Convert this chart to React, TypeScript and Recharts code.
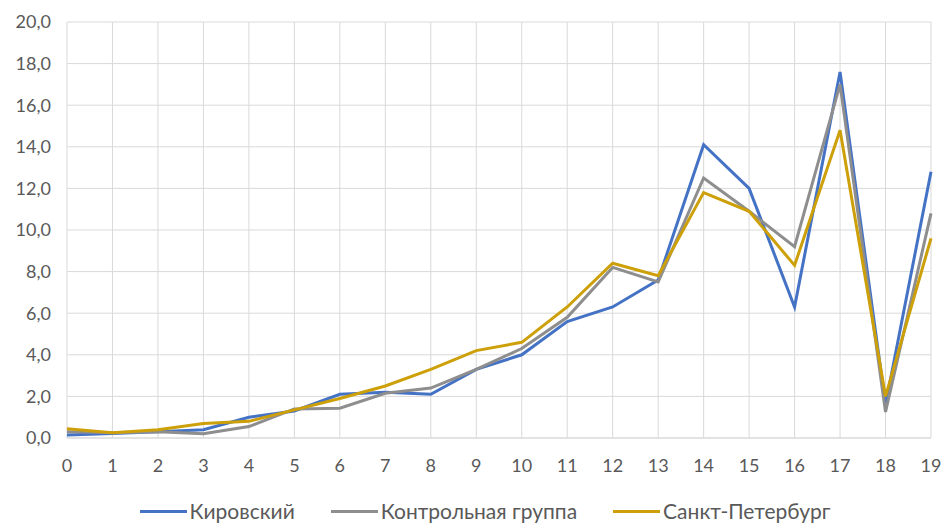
import { CartesianGrid, Legend, Line, LineChart, XAxis, YAxis } from "recharts";

const ages = ["0", "1", "2", "3", "4", "5", "6", "7", "8", "9", "10", "11", "12", "13", "14", "15", "16", "17", "18", "19"];
const kirovsky = [0.15, 0.22, 0.3, 0.4, 1.0, 1.3, 2.1, 2.2, 2.1, 3.3, 4.0, 5.6, 6.3, 7.6, 14.1, 12.0, 6.3, 17.6, 1.6, 12.8];
const control = [0.3, 0.25, 0.3, 0.2, 0.55, 1.4, 1.43, 2.15, 2.4, 3.3, 4.3, 5.8, 8.2, 7.5, 12.5, 10.9, 9.2, 17.0, 1.25, 10.8];
const spb = [0.45, 0.25, 0.4, 0.7, 0.8, 1.35, 1.9, 2.5, 3.3, 4.2, 4.6, 6.3, 8.4, 7.8, 11.8, 10.9, 8.3, 14.8, 2.0, 9.6];
const yTicks = [0, 2, 4, 6, 8, 10, 12, 14, 16, 18, 20];

const BLUE = "#4472C4";
const GRAY = "#8E8E8E";
const GOLD = "#CDA00A";
const GRID = "#D9D9D9";
const TEXT = "#595959";
const FONT = "Lato, 'Open Sans', sans-serif";

const series = [
  { key: "kirovsky", name: "Кировский", color: BLUE },
  { key: "control", name: "Контрольная группа", color: GRAY },
  { key: "spb", name: "Санкт-Петербург", color: GOLD }
];

const data = ages.map((age, i) => ({
  age,
  kirovsky: kirovsky[i],
  control: control[i],
  spb: spb[i]
}));

function ChartLegend() {
  return (
    <div
      style={{
        display: "flex",
        justifyContent: "center",
        paddingLeft: 26,
        fontFamily: FONT,
        fontSize: 21,
        color: TEXT,
        lineHeight: "24px"
      }}
    >
      {series.map((s, i) => (
        <div
          key={s.key}
          style={{ display: "flex", alignItems: "center", marginLeft: i === 0 ? 0 : 36 }}
        >
          <span
            style={{ display: "inline-block", width: 47, height: 3, background: s.color, marginRight: 3 }}
          />
          <span>{s.name}</span>
        </div>
      ))}
    </div>
  );
}

export default function App() {
  return (
    <div style={{ position: "absolute", left: 0, top: 0, width: 944, height: 524, background: "#fff" }}>
      <LineChart
        width={944}
        height={524}
        data={data}
        margin={{ top: 22, right: 13, left: 0, bottom: 22 }}
        style={{ fontFamily: FONT }}
      >
        <CartesianGrid stroke={GRID} strokeWidth={1} />
        <XAxis
          dataKey="age"
          tick={{ fontSize: 18, fill: TEXT }}
          tickLine={false}
          axisLine={{ stroke: GRID }}
          tickMargin={15}
          height={40}
          interval={0}
        />
        <YAxis
          domain={[0, 20]}
          ticks={yTicks}
          tickFormatter={(v) => Number(v).toFixed(1).replace(".", ",")}
          tick={{ fontSize: 18, fill: TEXT }}
          tickLine={false}
          axisLine={false}
          tickMargin={10}
          width={67}
        />
        <Legend verticalAlign="bottom" content={<ChartLegend />} wrapperStyle={{ left: 0, width: 944, bottom: 1 }} />
        {series.map((s) => (
          <Line
            key={s.key}
            type="linear"
            dataKey={s.key}
            name={s.name}
            stroke={s.color}
            strokeWidth={3}
            dot={false}
            isAnimationActive={false}
          />
        ))}
      </LineChart>
    </div>
  );
}
